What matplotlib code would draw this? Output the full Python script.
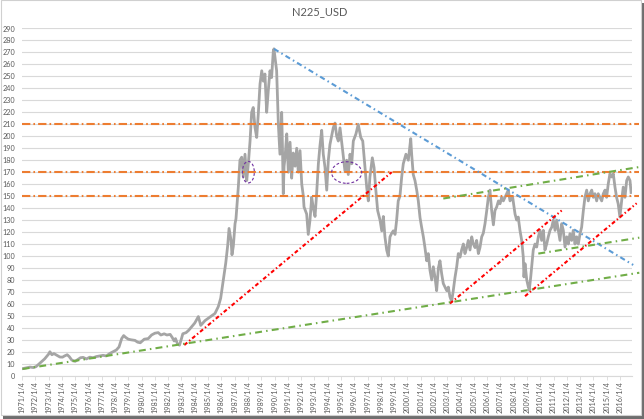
import matplotlib.pyplot as plt
from matplotlib.patches import Ellipse, Rectangle

plt.rcParams['font.family'] = ['Lato', 'DejaVu Sans']
plt.rcParams['lines.scale_dashes'] = False

# N225 in USD (year fraction, value)
years = [
    1971.00, 1971.30, 1971.60, 1971.85, 1972.05, 1972.35, 1972.70, 1973.00, 1973.10, 1973.25,
    1973.40, 1973.55, 1973.85, 1974.05, 1974.20, 1974.40, 1974.55, 1974.75, 1975.00, 1975.20,
    1975.40, 1975.60, 1975.85, 1976.10, 1976.35, 1976.60, 1976.85, 1977.10, 1977.35, 1977.60,
    1977.85, 1978.10, 1978.30, 1978.50, 1978.65, 1978.80, 1979.00, 1979.20, 1979.50, 1979.70,
    1979.90, 1980.05, 1980.20, 1980.50, 1980.75, 1981.00, 1981.25, 1981.45, 1981.70, 1981.90,
    1982.15, 1982.30, 1982.45, 1982.55, 1982.70, 1982.85, 1983.00, 1983.10, 1983.35, 1983.55,
    1983.77, 1984.00, 1984.27, 1984.45, 1984.77, 1985.15, 1985.52, 1985.77, 1985.95, 1986.15,
    1986.33, 1986.48, 1986.58, 1986.73, 1986.80, 1986.90, 1987.03, 1987.10, 1987.20, 1987.28,
    1987.40, 1987.53, 1987.65, 1987.78, 1987.91, 1988.03, 1988.16, 1988.28, 1988.40, 1988.53,
    1988.66, 1988.78, 1988.91, 1989.04, 1989.16, 1989.28, 1989.41, 1989.53, 1989.66, 1989.78,
    1989.91, 1989.96, 1990.16, 1990.29, 1990.41, 1990.54, 1990.60, 1990.66, 1990.72, 1990.79,
    1990.92, 1991.04, 1991.17, 1991.29, 1991.41, 1991.55, 1991.67, 1991.79, 1991.92, 1992.05,
    1992.17, 1992.22, 1992.42, 1992.54, 1992.67, 1992.80, 1992.92, 1993.05, 1993.17, 1993.30,
    1993.42, 1993.55, 1993.67, 1993.80, 1993.93, 1994.05, 1994.17, 1994.42, 1994.55, 1994.68,
    1994.80, 1994.93, 1995.13, 1995.30, 1995.43, 1995.55, 1995.68, 1995.81, 1995.93, 1996.13,
    1996.30, 1996.49, 1996.64, 1996.81, 1996.94, 1997.06, 1997.18, 1997.36, 1997.49, 1997.61,
    1997.76, 1997.94, 1998.07, 1998.19, 1998.31, 1998.44, 1998.56, 1998.69, 1998.82, 1998.94,
    1999.07, 1999.19, 1999.31, 1999.44, 1999.57, 1999.69, 1999.89, 2000.07, 2000.25, 2000.32,
    2000.44, 2000.57, 2000.70, 2000.82, 2000.95, 2001.07, 2001.20, 2001.32, 2001.45, 2001.57,
    2001.70, 2001.83, 2001.95, 2002.08, 2002.20, 2002.33, 2002.45, 2002.58, 2002.70, 2002.83,
    2002.96, 2003.08, 2003.20, 2003.33, 2003.45, 2003.58, 2003.71, 2003.83, 2003.96, 2004.08,
    2004.21, 2004.33, 2004.46, 2004.58, 2004.71, 2004.84, 2004.96, 2005.09, 2005.21, 2005.34,
    2005.46, 2005.59, 2005.71, 2005.84, 2005.97, 2006.09, 2006.21, 2006.34, 2006.47, 2006.59,
    2006.72, 2006.85, 2006.97, 2007.09, 2007.22, 2007.34, 2007.47, 2007.59, 2007.72, 2007.92,
    2008.10, 2008.22, 2008.34, 2008.47, 2008.60, 2008.72, 2008.77, 2008.85, 2008.98, 2009.10,
    2009.17, 2009.28, 2009.35, 2009.47, 2009.60, 2009.73, 2009.85, 2009.98, 2010.10, 2010.23,
    2010.35, 2010.48, 2010.60, 2010.73, 2010.86, 2010.98, 2011.11, 2011.23, 2011.36, 2011.48,
    2011.61, 2011.73, 2011.86, 2011.99, 2012.11, 2012.23, 2012.36, 2012.48, 2012.61, 2012.74,
    2012.86, 2012.99, 2013.11, 2013.24, 2013.36, 2013.49, 2013.61, 2013.74, 2013.87, 2013.99,
    2014.11, 2014.24, 2014.36, 2014.49, 2014.62, 2014.74, 2014.87, 2014.99, 2015.11, 2015.24,
    2015.37, 2015.49, 2015.62, 2015.74, 2015.86, 2015.99, 2016.12, 2016.24, 2016.37, 2016.50,
    2016.62, 2016.75, 2016.83,
]
n225_usd = [
    5.8, 6.5, 7.2, 6.8, 7.5, 10.5, 14.0, 18.0, 20.0, 17.5,
    18.5, 17.5, 15.6, 15.5, 16.5, 17.5, 16.0, 13.0, 12.0, 13.5,
    15.0, 15.3, 14.0, 15.5, 15.0, 16.0, 16.5, 17.0, 16.5, 18.5,
    20.0, 21.5, 24.0, 31.0, 33.5, 32.0, 30.5, 30.0, 29.5, 28.0,
    27.5, 29.0, 30.5, 31.0, 34.0, 35.5, 36.0, 34.0, 35.0, 34.0,
    34.5, 32.0, 29.0, 31.0, 26.5, 25.5, 31.0, 35.0, 36.0, 38.0,
    41.0, 44.0, 49.4, 42.0, 46.0, 49.0, 52.0, 57.7, 64.7, 80.0,
    94.0, 109.0, 123.0, 113.0, 101.0, 108.0, 127.0, 131.0, 146.7, 158.0,
    180.0, 182.5, 166.0, 185.0, 163.0, 177.0, 196.0, 220.0, 224.0, 207.5,
    199.0, 218.6, 243.6, 254.7, 246.0, 252.0, 220.0, 238.0, 254.7, 249.0,
    271.0, 273.0, 254.7, 210.0, 185.0, 220.0, 190.0, 152.0, 175.0, 182.0,
    202.0, 170.0, 195.0, 165.0, 186.0, 175.0, 190.0, 170.0, 188.0, 160.0,
    150.0, 141.0, 135.0, 118.0, 130.0, 149.0, 140.0, 133.0, 152.0, 177.0,
    192.0, 205.0, 185.0, 174.0, 155.0, 180.0, 193.0, 207.0, 211.0, 200.0,
    196.0, 207.0, 188.0, 171.0, 180.0, 168.0, 185.0, 177.0, 196.0, 202.0,
    210.0, 199.0, 196.0, 174.0, 157.0, 146.0, 166.0, 182.0, 174.0, 157.0,
    138.0, 130.0, 121.0, 133.0, 116.0, 105.0, 100.0, 116.0, 119.0, 121.0,
    118.0, 130.0, 146.0, 150.0, 166.0, 177.0, 185.0, 180.0, 198.0, 185.0,
    168.0, 163.0, 155.0, 146.0, 132.0, 124.0, 116.0, 107.0, 96.0, 102.0,
    88.0, 80.0, 91.0, 82.0, 71.0, 90.0, 96.0, 85.0, 77.0, 74.0,
    71.0, 74.0, 66.0, 62.0, 71.0, 82.0, 91.0, 102.0, 99.0, 105.0,
    110.0, 102.0, 107.0, 113.0, 105.0, 116.0, 110.0, 107.0, 113.0, 102.0,
    107.0, 116.0, 119.0, 127.0, 138.0, 149.0, 155.0, 138.0, 126.0, 138.0,
    141.0, 146.0, 143.6, 149.0, 146.0, 149.0, 152.0, 155.0, 146.0, 149.0,
    135.0, 130.0, 132.5, 121.4, 113.0, 99.0, 82.5, 93.6, 80.0, 74.0,
    71.4, 82.5, 91.0, 105.0, 110.0, 107.5, 116.0, 121.4, 113.0, 121.4,
    105.0, 110.0, 116.0, 121.4, 124.0, 130.0, 121.4, 130.0, 121.4, 113.0,
    127.0, 121.4, 107.5, 116.0, 110.0, 118.6, 113.0, 121.4, 110.0, 116.0,
    110.0, 118.6, 124.0, 138.0, 149.0, 155.0, 146.0, 152.0, 155.0, 149.0,
    152.0, 146.0, 152.0, 149.0, 146.0, 152.0, 155.0, 149.0, 160.0, 168.7,
    166.0, 168.7, 157.5, 149.0, 143.6, 132.5, 146.0, 157.5, 149.0, 163.0,
    166.0, 163.0, 153.0,
]

# hand drawn analysis lines
resistance_levels = [210, 170, 150]
blue_x, blue_y = [1989.96, 2016.99], [273, 92.5]
red_x = [[1983.21, 1998.82], [2003.20, 2011.61], [2008.85, 2017.25]]
red_y = [[25.6, 170], [60.3, 138], [66.4, 144]]
green_x = [[1971.05, 2017.45], [2009.85, 2017.45], [2002.70, 2017.45]]
green_y = [[5.6, 86], [102, 115.3], [148, 174.3]]
circle_x = [1988.03, 1995.43]
circle_y = [170, 169.7]
circle_w = [0.9, 2.26]
circle_h = [18, 18]

tick_years = list(range(1971, 2017))

fig = plt.figure(figsize=(6.44, 4.19), dpi=100)
W, H = 644, 419

# chart area with a drop shadow, like the Excel screenshot
fig.patches.append(Rectangle((3 / W, 0), 641 / W, 416 / H, transform=fig.transFigure,
                             facecolor='#6e6e6e', edgecolor='none', zorder=-2))
fig.patches.append(Rectangle((0.5 / W, 4 / H), 640 / W, 414.5 / H, transform=fig.transFigure,
                             facecolor='white', edgecolor='#d0d0d0', lw=0.8, zorder=-1))

ax = fig.add_axes([22 / W, 43.3 / H, 610 / W, 347.2 / H])
ax.set_zorder(5)
ax.set_facecolor('white')

ax.plot(years, n225_usd, color='#a5a5a5', lw=2.0, zorder=3)

x0, x1 = 1971.0, 2017.45
for lvl in resistance_levels:
    ax.plot([x0, x1], [lvl, lvl], color='#ed7d31', lw=1.5,
            dashes=(6, 2.2, 1.2, 2.2), clip_on=False, zorder=4)
ax.plot(blue_x, blue_y, color='#5b9bd5', lw=1.5, dashes=(3.8, 2.4, 1.1, 2.4),
        clip_on=False, zorder=4)
for xs, ys in zip(red_x, red_y):
    ax.plot(xs, ys, color='#ff0000', lw=1.5, dashes=(2.8, 1.8, 1.0, 1.8),
            clip_on=False, zorder=4)
for xs, ys in zip(green_x, green_y):
    ax.plot(xs, ys, color='#70ad47', lw=1.5, dashes=(5, 3, 1.1, 3),
            clip_on=False, zorder=4)
for cx, cy, cw, ch in zip(circle_x, circle_y, circle_w, circle_h):
    ax.add_patch(Ellipse((cx, cy), cw, ch, fill=False, edgecolor='#7030a0',
                         lw=0.8, linestyle=(0, (2, 1.5)), zorder=5))

ax.set_xlim(1971.0, 2016.9)
ax.set_ylim(0, 290)
ax.set_yticks(range(0, 300, 10))
ax.set_xticks(tick_years)
ax.set_xticklabels([f'{y}/1/4' for y in tick_years])
ax.yaxis.grid(True, color='#d9d9d9', lw=0.8)
ax.set_axisbelow(True)

for s in ['top', 'right', 'left']:
    ax.spines[s].set_visible(False)
ax.spines['bottom'].set_color('#d9d9d9')
ax.spines['bottom'].set_linewidth(0.8)

ax.tick_params(axis='y', length=0, pad=5, labelsize=5.2, labelcolor='#595959')
ax.tick_params(axis='x', length=3, width=0.6, color='#d9d9d9', pad=1,
               labelsize=5.2, labelcolor='#595959', labelrotation=90)

fig.text(320 / W, 1 - 12 / H, 'N225_USD', ha='center', va='center',
         fontsize=8, color='#595959')

fig.savefig('out.png', dpi=100)
